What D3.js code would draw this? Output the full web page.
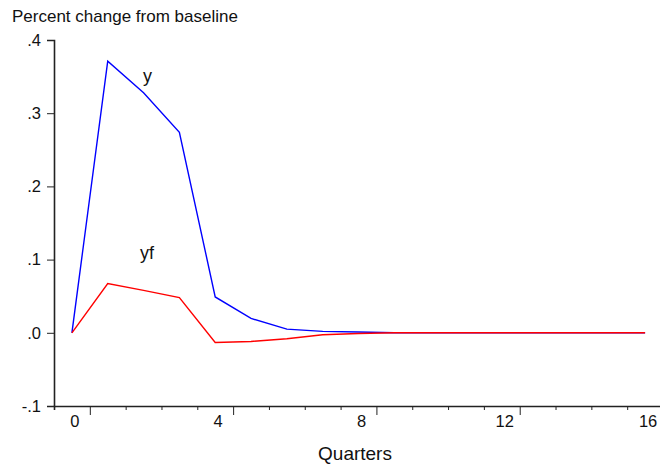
<!DOCTYPE html>
<html>
<head>
<meta charset="utf-8">
<script src="https://cdn.jsdelivr.net/npm/d3@7"></script>
<style>
  body { margin: 0; background: #fff; }
  svg { font-family: "Liberation Sans", Arial, sans-serif; }
</style>
</head>
<body>
<svg id="chart"></svg>
<script>
// Data
const quarters = d3.range(0, 17);
const ySeries = [0, 0.371, 0.328, 0.274, 0.049, 0.0196, 0.005, 0.002, 0.001, 0, 0, 0, 0, 0, 0, 0, 0];
const yfSeries = [0, 0.0673, 0.058, 0.048, -0.0132, -0.0118, -0.0082, -0.0027, -0.001, 0, 0, 0, 0, 0, 0, 0, 0];
const yTicks = [-0.1, 0, 0.1, 0.2, 0.3, 0.4];
const yTickLabels = ["-.1", ".0", ".1", ".2", ".3", ".4"];
const xTicks = [0, 4, 8, 12, 16];
const xTickLabels = ["0", "4", "8", "12", "16"];

const width = 660, height = 468;

const svg = d3.select("#chart")
    .attr("width", width)
    .attr("height", height);

// Scales
const x = d3.scaleLinear().domain([-0.5, 16.5]).range([54, 663]);
const y = d3.scaleLinear().domain([-0.1, 0.4]).range([406, 40]);

// Y axis
const yAxis = d3.axisLeft(y)
    .tickValues(yTicks)
    .tickFormat((d, i) => yTickLabels[i])
    .tickSize(7)
    .tickPadding(6);

const gy = svg.append("g")
    .attr("transform", "translate(54,0)")
    .call(yAxis);
gy.select(".domain").attr("stroke", "#222").attr("stroke-width", 1.6);
gy.selectAll(".tick line").attr("stroke", "#222");
gy.selectAll(".tick text").attr("font-size", 16.5).attr("fill", "#111");

// X axis: ticks between observations, every 4th one longer
const boundaries = d3.range(-0.5, 16, 1);
const xAxis = d3.axisBottom(x)
    .tickValues(boundaries)
    .tickFormat("")
    .tickSizeOuter(0)
    .tickSize(4);

const gx = svg.append("g")
    .attr("transform", "translate(0,406)")
    .call(xAxis);
gx.select(".domain").attr("stroke", "#222").attr("stroke-width", 1.6);
gx.selectAll(".tick line")
    .attr("stroke", "#222")
    .attr("y2", d => ((d - 0.5) % 4 === 0 ? 9 : 4));

svg.append("g")
    .selectAll("text")
    .data(xTicks)
    .join("text")
    .attr("x", d => x(d) + 3)
    .attr("y", 427)
    .attr("text-anchor", "middle")
    .attr("font-size", 16.5)
    .attr("fill", "#111")
    .text((d, i) => xTickLabels[i]);

// Lines
const line = d3.line()
    .x((d, i) => x(quarters[i]))
    .y(d => y(d));

svg.append("path")
    .datum(ySeries)
    .attr("fill", "none")
    .attr("stroke", "#0000ff")
    .attr("stroke-width", 1.4)
    .attr("d", line);

svg.append("path")
    .datum(yfSeries)
    .attr("fill", "none")
    .attr("stroke", "#ff0000")
    .attr("stroke-width", 1.4)
    .attr("d", line);

// Series labels
svg.append("text")
    .attr("x", 143).attr("y", 82)
    .attr("font-size", 18).attr("fill", "#111")
    .text("y");

svg.append("text")
    .attr("x", 140).attr("y", 259)
    .attr("font-size", 18).attr("fill", "#111")
    .text("yf");

// Titles
svg.append("text")
    .attr("x", 12).attr("y", 22)
    .attr("font-size", 17).attr("fill", "#111")
    .text("Percent change from baseline");

svg.append("text")
    .attr("x", 355).attr("y", 460)
    .attr("text-anchor", "middle")
    .attr("font-size", 19).attr("fill", "#111")
    .text("Quarters");
</script>
</body>
</html>
